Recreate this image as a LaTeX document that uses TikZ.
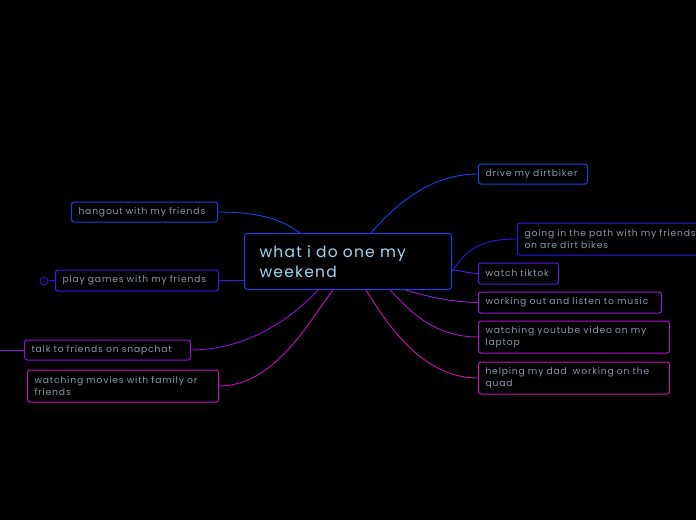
\documentclass[tikz,border=0pt]{standalone}
\usepackage{fontspec}
\setmainfont{Poppins}
\newfontfamily\boxfont[LetterSpace=9]{Poppins}
\newfontfamily\mainfont[LetterSpace=8]{Poppins}
\definecolor{cblue}{HTML}{1A40F0}
\definecolor{cblue2}{HTML}{2418E8}
\definecolor{cviolet}{HTML}{3C18E8}
\definecolor{cviolet2}{HTML}{5A18F0}
\definecolor{cpurple}{HTML}{8C10D8}
\definecolor{cpurple2}{HTML}{9020E0}
\definecolor{cmag1}{HTML}{B010D0}
\definecolor{cmag2}{HTML}{C810C0}
\definecolor{cmag3}{HTML}{D010B0}
\definecolor{textgray}{HTML}{8A9AAA}
\definecolor{textblue}{HTML}{A0D8F0}
\begin{document}
\begin{tikzpicture}[x=1pt,y=-1pt,
  box/.style={draw, rounded corners=2.5pt, line width=1pt, fill=black, text=textgray,
    font=\boxfont\fontsize{9.2}{11.8}\selectfont, inner xsep=7pt, inner ysep=0pt, align=left, anchor=west},
  link/.style={line width=0.9pt}]
\fill[black] (0,0) rectangle (696,520);
\useasboundingbox (0,0) rectangle (696,520);
% central
\node[box, draw=cblue, text=textblue, font=\mainfont\fontsize{15.5}{20}\selectfont, inner xsep=15pt,
  minimum width=207pt, minimum height=56pt, text width=177pt, rounded corners=3pt] (c) at (244,261.5) {what i do one my\\weekend};
% left nodes
\node[box, draw=cblue, minimum width=146pt, minimum height=20pt, text width=132pt] (hang) at (71,212) {hangout with my friends};
\node[box, draw=cviolet, minimum width=163pt, minimum height=21pt, text width=149pt] (play) at (55,280.5) {play games with my friends};
\node[box, draw=cpurple, minimum width=166pt, minimum height=20pt, text width=152pt] (talk) at (24,350) {talk to friends on snapchat};
\node[box, draw=cmag2, minimum width=191pt, minimum height=32pt, text width=177pt] (movie) at (27,386) {watching movies with family or\\friends};
% right nodes
\node[box, draw=cblue, minimum width=109pt, minimum height=20pt, text width=95pt] (drive) at (478,174) {drive my dirtbiker};
\node[box, draw=cblue2, minimum width=190pt, minimum height=32pt, text width=190pt] (path) at (517,239) {going in the path with my friends\\on are dirt bikes};
\node[box, draw=cviolet2, minimum width=80pt, minimum height=21pt, text width=66pt] (tik) at (478,273.5) {watch tiktok};
\node[box, draw=cpurple2, minimum width=183pt, minimum height=21pt, text width=169pt] (work) at (478,302.5) {working out and listen to music};
\node[box, draw=cmag1, minimum width=191pt, minimum height=32pt, text width=177pt] (yt) at (478,337) {watching youtube video on my\\laptop};
\node[box, draw=cmag3, minimum width=191pt, minimum height=32pt, text width=177pt] (dad) at (478,378) {helping my dad\ \ working on the\\quad};
% marker
\node[draw=cviolet, circle, line width=0.7pt, minimum size=8pt, inner sep=0pt, text=cviolet, font=\fontsize{6}{6}\selectfont] (m) at (44,281) {1};
\coordinate (tl) at (0,350);
% connectors
\draw[link, cblue] (hang.east) .. controls (265,212) and (285,222) .. ([xshift=56pt]c.north west);
\draw[link, cviolet] (play.east) -- (play.east -| c.west);
\draw[link, cviolet] (m.east) -- (play.west);
\draw[link, cpurple] (talk.east) .. controls (250,350) and (295,315) .. ([xshift=74pt]c.south west);
\draw[link, cpurple] (talk.west) -- (tl);
\draw[link, cmag2] (movie.east) .. controls (275,386) and (310,320) .. ([xshift=89pt]c.south west);
\draw[link, cblue] (drive.west) .. controls (430,174) and (395,205) .. ([xshift=127pt]c.north west);
\draw[link, cblue2] (path.west) .. controls (490,239) and (470,243) .. ([yshift=-10pt]c.east);
\draw[link, cviolet2] (tik.west) .. controls (465,273) and (460,270) .. ([yshift=-37pt]c.north east);
\draw[link, cpurple2] (work.west) .. controls (450,302) and (425,296) .. ([xshift=162pt]c.south west);
\draw[link, cmag1] (yt.west) .. controls (430,337) and (405,305) .. ([xshift=146pt]c.south west);
\draw[link, cmag3] (dad.west) .. controls (420,378) and (385,320) .. ([xshift=122pt]c.south west);
\end{tikzpicture}
\end{document}
